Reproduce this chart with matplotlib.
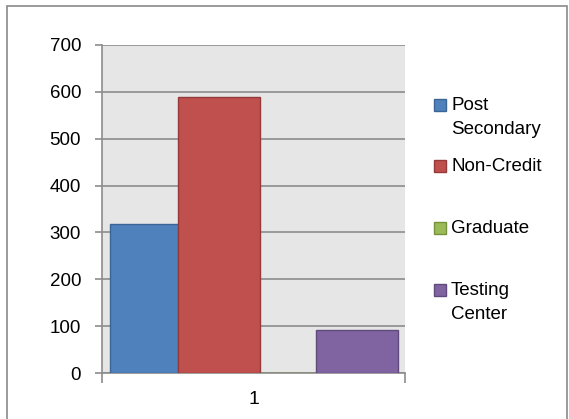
import matplotlib.pyplot as plt
from matplotlib.patches import Rectangle

series = ['Post\nSecondary', 'Non-Credit', 'Graduate', 'Testing\nCenter']
values = [318, 588, 0, 92]
category = ['1']
yticks = [0, 100, 200, 300, 400, 500, 600, 700]

colors = ['#4f81bd', '#c0504d', '#9bbb59', '#8064a2']
edges = ['#3a6595', '#943b39', '#76923c', '#5f4a7b']

# bar layout in pixel-like x units (plot area is 303 px wide)
lefts = [8, 76, 158, 214]
widths = [68, 82, 56, 82]

W, H = 569, 419
plt.rcParams['font.family'] = ['Liberation Sans', 'DejaVu Sans']
fig = plt.figure(figsize=(W / 100, H / 100), dpi=100)

# outer chart border
fig.patches.append(Rectangle((7 / W, -0.05), (W - 9) / W, (H - 6) / H + 0.05,
                             transform=fig.transFigure, fill=False,
                             edgecolor='#8a8a8a', linewidth=1.2))

ax = fig.add_axes([102 / W, (H - 373) / H, 303 / W, 328 / H])
ax.set_facecolor('#e6e6e6')

for i in range(len(series)):
    ax.bar(lefts[i], values[i], widths[i], align='edge', color=colors[i],
           edgecolor=edges[i], linewidth=1, zorder=3)

ax.set_xlim(0, 303)
ax.set_ylim(0, 700)
ax.set_yticks(yticks)
ax.set_yticklabels([str(v) for v in yticks], fontsize=13.5)
ax.yaxis.grid(True, color='#8c8c8c', linewidth=1.2, zorder=0)
ax.set_axisbelow(True)

ax.set_xticks([0, 303])
ax.set_xticklabels([])
ax.tick_params(axis='x', length=7, color='#8c8c8c', width=1.2)
ax.tick_params(axis='y', length=5, color='#8c8c8c', width=1.2, pad=10)
ax.text(151.5, -38, category[0], ha='center', va='top', fontsize=14,
        transform=ax.transData)

for s in ['top', 'right']:
    ax.spines[s].set_visible(False)
for s in ['left', 'bottom']:
    ax.spines[s].set_color('#8c8c8c')
    ax.spines[s].set_linewidth(1.2)

# legend drawn Excel style: swatch aligned with first text line
leg_y = [105, 166, 228, 290]
for i in range(len(series)):
    y = leg_y[i]
    fig.patches.append(Rectangle((434 / W, (H - y - 6) / H), 12 / W, 12 / H,
                                 transform=fig.transFigure, facecolor=colors[i],
                                 edgecolor=edges[i], linewidth=1))
    fig.text(451 / W, (H - y + 8) / H, series[i], ha='left', va='top',
             fontsize=13.5, linespacing=1.55)

fig.savefig('out.png', dpi=100)
